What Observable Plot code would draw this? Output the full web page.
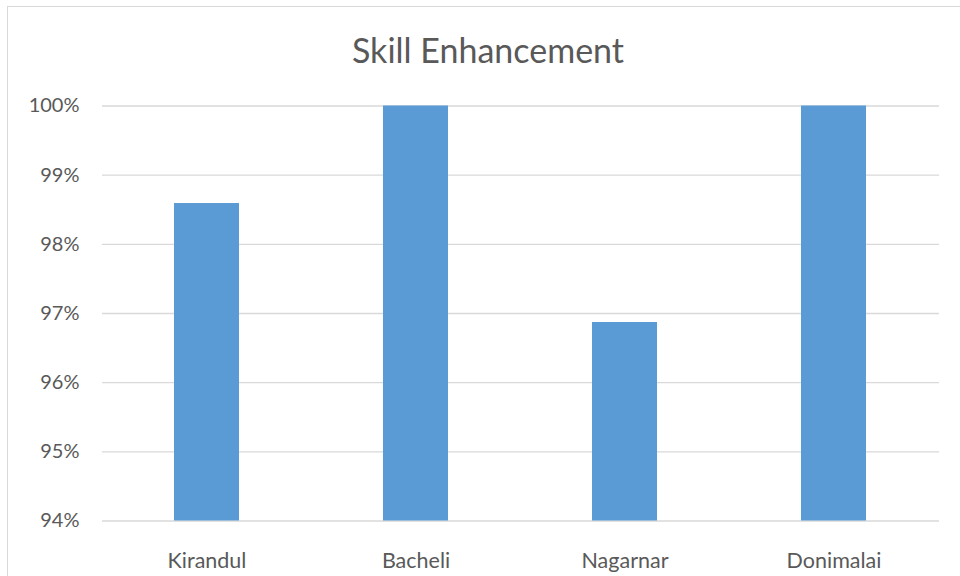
<!DOCTYPE html>
<html>
<head>
<meta charset="utf-8">
<script src="https://cdn.jsdelivr.net/npm/d3@7"></script>
<script src="https://cdn.jsdelivr.net/npm/@observablehq/plot@0.6"></script>
<style>
  html, body { margin: 0; padding: 0; background: #fff; overflow: hidden; }
  #wrap { position: relative; width: 960px; height: 576px; overflow: hidden; }
  #frame { position: absolute; left: 7px; top: 6px; width: 2000px; height: 2000px;
           border: 1.5px solid #d9d9d9; box-sizing: border-box; }
  #title { position: absolute; left: 0; width: 976px; top: 28px; text-align: center;
           font-family: Lato, "Open Sans", sans-serif; font-size: 34px; color: #595959;
           line-height: 44px; }
  #chart { position: absolute; left: 0; top: 0; }
</style>
</head>
<body>
<div id="wrap">
  <div id="frame"></div>
  <div id="title">Skill Enhancement</div>
  <div id="chart"></div>
</div>
<script>
const categories = ["Kirandul", "Bacheli", "Nagarnar", "Donimalai"];
const values = [0.9859, 1.0, 0.9687, 1.0];
const yTicks = [0.94, 0.95, 0.96, 0.97, 0.98, 0.99, 1.0];
const baseline = 0.94;

const data = categories.map((c, i) => ({ name: c, value: values[i] }));

const plot = Plot.plot({
  width: 960,
  height: 576,
  marginLeft: 102,
  marginRight: 21,
  marginTop: 105.5,
  marginBottom: 55.5,
  style: { fontFamily: "Lato, 'Open Sans', sans-serif", fontSize: "20px", color: "#595959", background: "transparent", overflow: "visible" },
  x: { domain: categories, paddingInner: 0.688, paddingOuter: 0.344, label: null },
  y: { domain: [0.94, 1.0], label: null },
  marks: [
    Plot.ruleY(yTicks, { stroke: "#d9d9d9", strokeWidth: 1.4 }),
    Plot.barY(data, { x: "name", y1: () => baseline, y2: "value", fill: "#5b9bd5" }),
    Plot.axisY({ ticks: yTicks, tickFormat: d3.format(".0%"), tickSize: 0, tickPadding: 23, fill: "#595959" }),
    Plot.axisX({ tickSize: 0, tickPadding: 32, fill: "#595959", fontSize: 21.5 })
  ]
});
document.getElementById("chart").appendChild(plot);
</script>
</body>
</html>
